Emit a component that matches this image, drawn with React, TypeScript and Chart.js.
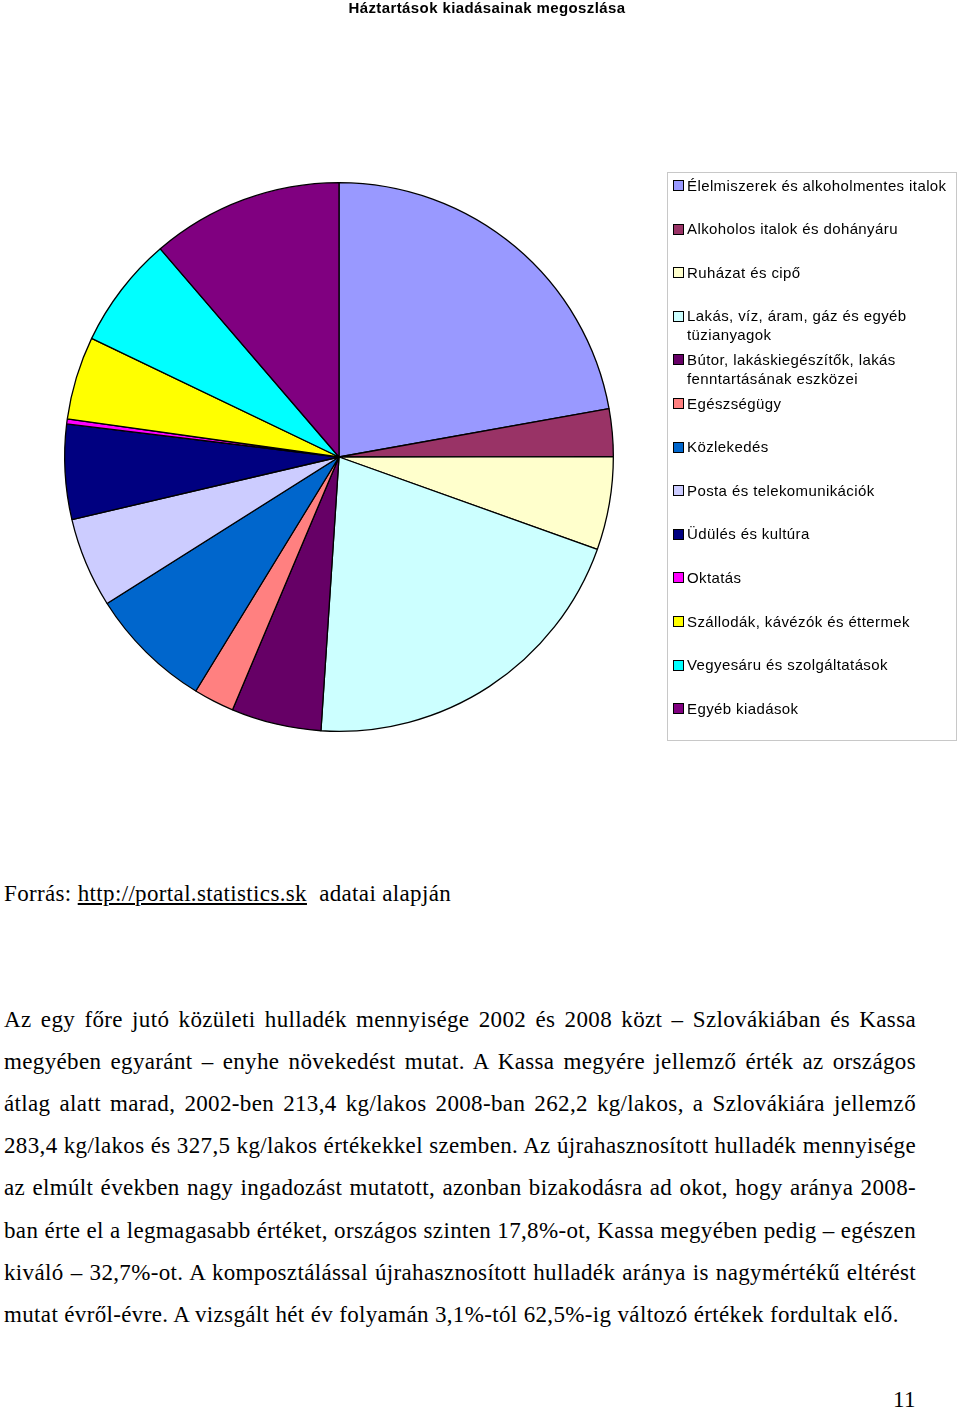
import React, { useEffect, useRef } from "react";
import { Chart, registerables } from "chart.js";

Chart.register(...registerables);

const TITLE = "Háztartások kiadásainak megoszlása";

const categories = [
  "Élelmiszerek és alkoholmentes italok",
  "Alkoholos italok és dohányáru",
  "Ruházat és cipő",
  "Lakás, víz, áram, gáz és egyéb tüzianyagok",
  "Bútor, lakáskiegészítők, lakás fenntartásának eszközei",
  "Egészségügy",
  "Közlekedés",
  "Posta és telekomunikációk",
  "Üdülés és kultúra",
  "Oktatás",
  "Szállodák, kávézók és éttermek",
  "Vegyesáru és szolgáltatások",
  "Egyéb kiadások",
];

const shares = [22.2, 2.8, 5.5, 20.6, 5.3, 2.4, 7.3, 5.3, 5.6, 0.3, 4.9, 6.6, 11.3];

const colors = [
  "#9999FF",
  "#993366",
  "#FFFFCC",
  "#CCFFFF",
  "#660066",
  "#FF8080",
  "#0066CC",
  "#CCCCFF",
  "#000080",
  "#FF00FF",
  "#FFFF00",
  "#00FFFF",
  "#800080",
];

const SOURCE_PREFIX = "Forrás: ";
const SOURCE_LINK = "http://portal.statistics.sk";
const SOURCE_SUFFIX = "\u00a0\u00a0adatai alapján";

const paragraphLines = [
  "Az egy főre jutó közületi hulladék mennyisége 2002 és 2008 közt – Szlovákiában és Kassa",
  "megyében egyaránt – enyhe növekedést mutat. A Kassa megyére jellemző érték az országos",
  "átlag alatt marad, 2002-ben 213,4 kg/lakos 2008-ban 262,2 kg/lakos, a Szlovákiára jellemző",
  "283,4 kg/lakos és 327,5 kg/lakos értékekkel szemben. Az újrahasznosított hulladék mennyisége",
  "az elmúlt években nagy ingadozást mutatott, azonban bizakodásra ad okot, hogy aránya 2008-",
  "ban érte el a legmagasabb értéket, országos szinten 17,8%-ot, Kassa megyében pedig – egészen",
  "kiváló – 32,7%-ot. A komposztálással újrahasznosított hulladék aránya is nagymértékű eltérést",
  "mutat évről-évre. A vizsgált hét év folyamán 3,1%-tól 62,5%-ig változó értékek fordultak elő.",
];

const PAGE_NUMBER = "11";

function PieChart() {
  const ref = useRef<HTMLCanvasElement | null>(null);
  useEffect(() => {
    if (!ref.current) return;
    const chart = new Chart(ref.current, {
      type: "pie",
      data: {
        labels: categories,
        datasets: [
          {
            data: shares,
            backgroundColor: colors,
            borderColor: "#000000",
            borderWidth: 1.3,
          },
        ],
      },
      options: {
        responsive: false,
        animation: false,
        devicePixelRatio: 1,
        layout: { padding: { left: 64, right: 346, top: 182, bottom: 28 } },
        plugins: {
          legend: { display: false },
          tooltip: { enabled: false },
          title: { display: false },
        },
      },
    });
    return () => chart.destroy();
  }, []);
  return (
    <canvas
      ref={ref}
      width={960}
      height={760}
      style={{ position: "absolute", left: 0, top: 0, width: 960, height: 760 }}
    />
  );
}

export default function App() {
  const sans = "'Liberation Sans', Arial, sans-serif";
  const serif = "'Liberation Serif', 'Times New Roman', serif";
  const serifText = {
    fontFamily: serif,
    fontSize: 23,
    letterSpacing: "0.35px",
    lineHeight: "42px",
    color: "#000",
  } as const;
  return (
    <div
      style={{
        position: "absolute",
        left: 0,
        top: 0,
        width: 960,
        height: 1410,
        background: "#fff",
        overflow: "hidden",
      }}
    >
      <PieChart />
      <div
        style={{
          position: "absolute",
          left: 7,
          top: -1,
          width: 960,
          textAlign: "center",
          fontFamily: sans,
          fontWeight: "bold",
          fontSize: 15,
          letterSpacing: "0.4px",
          lineHeight: "18px",
          color: "#000",
        }}
      >
        {TITLE}
      </div>
      <div
        style={{
          position: "absolute",
          left: 667,
          top: 172,
          width: 288,
          height: 567,
          border: "1px solid #c8c8c8",
        }}
      />
      {categories.map((c, i) => {
        const cy = 185 + i * 43.6;
        return (
          <React.Fragment key={c}>
            <div
              style={{
                position: "absolute",
                left: 673,
                top: cy - 5,
                width: 9,
                height: 9,
                border: "1px solid #000",
                background: colors[i],
              }}
            />
            <div
              style={{
                position: "absolute",
                left: 687,
                top: cy - 9.5,
                width: 266,
                fontFamily: sans,
                fontSize: 15,
                letterSpacing: "0.4px",
                lineHeight: "19px",
                color: "#000",
              }}
            >
              {c}
            </div>
          </React.Fragment>
        );
      })}
      <div
        style={{
          position: "absolute",
          left: 4,
          top: 894 - 21,
          whiteSpace: "pre",
          ...serifText,
        }}
      >
        {SOURCE_PREFIX}
        <span style={{ textDecoration: "underline" }}>{SOURCE_LINK}</span>
        {SOURCE_SUFFIX}
      </div>
      {paragraphLines.map((line, i) => {
        const cy = 1020 + i * 42.1;
        const last = i === paragraphLines.length - 1;
        return (
          <div
            key={i}
            style={{
              position: "absolute",
              left: 4,
              top: cy - 21,
              width: 912,
              whiteSpace: "nowrap",
              textAlign: last ? "left" : "justify",
              textAlignLast: last ? "left" : "justify",
              ...serifText,
            }}
          >
            {line}
          </div>
        );
      })}
      <div
        style={{
          position: "absolute",
          left: 893,
          top: 1400 - 21,
          ...serifText,
        }}
      >
        {PAGE_NUMBER}
      </div>
    </div>
  );
}
